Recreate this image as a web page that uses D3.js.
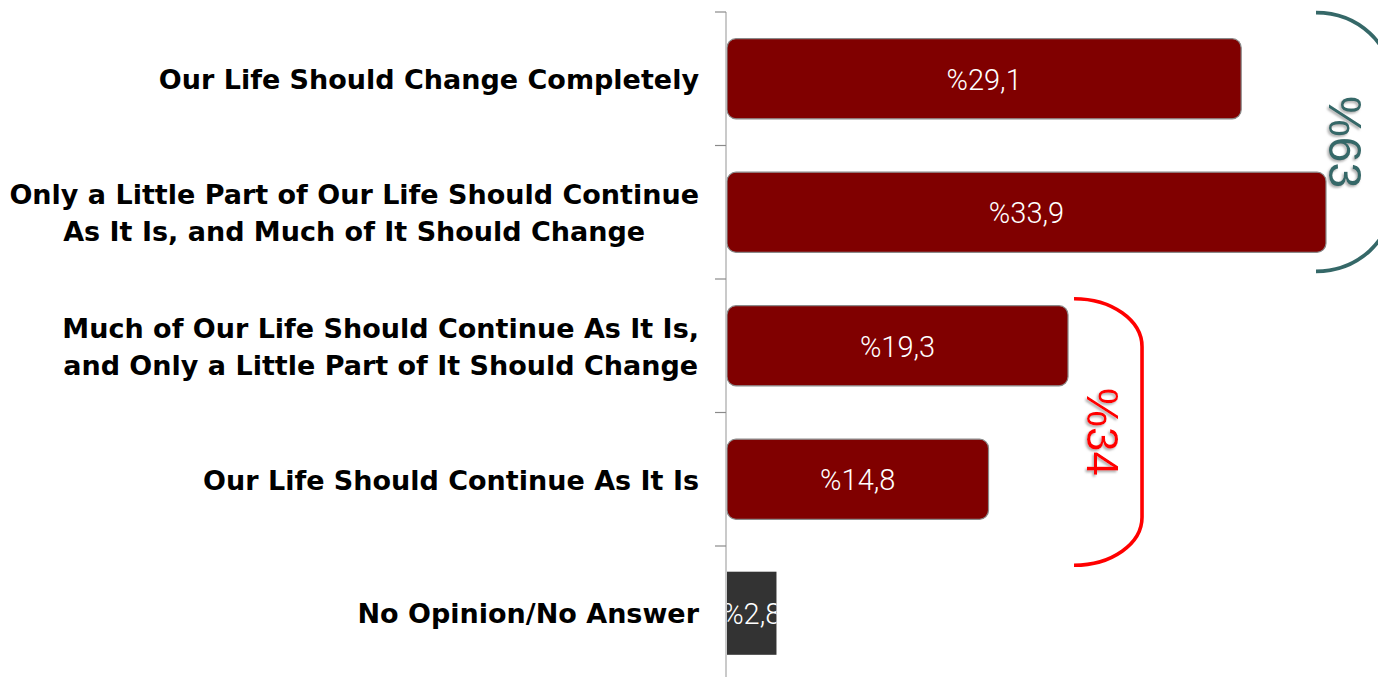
<!DOCTYPE html>
<html><head><meta charset="utf-8">
<script src="https://cdn.jsdelivr.net/npm/d3@7"></script>
<style>html,body{margin:0;padding:0;background:#fff;}svg{display:block;}</style>
</head><body>
<svg id="chart" width="1378" height="677"></svg>
<script>
const categories = [
  ["Our Life Should Change Completely"],
  ["Only a Little Part of Our Life Should Continue", "As It Is, and Much of It Should Change"],
  ["Much of Our Life Should Continue As It Is,", "and Only a Little Part of It Should Change"],
  ["Our Life Should Continue As It Is"],
  ["No Opinion/No Answer"]
];
const values = [29.1, 33.9, 19.3, 14.8, 2.8];
const valueLabels = ["%29,1", "%33,9", "%19,3", "%14,8", "%2,8"];
const groupLabels = ["%63", "%34"];

const svg = d3.select("#chart");
const keys = categories.map((c, i) => "c" + i);
const x = d3.scaleLinear().domain([0, 33.9]).range([727, 1326]);
const y = d3.scaleBand().domain(keys).range([12, 679.5]).paddingInner(0.4).paddingOuter(0.2);

const defs = svg.append("defs");
const f = defs.append("filter").attr("id", "sh").attr("x", "-20%").attr("y", "-20%").attr("width", "140%").attr("height", "140%");
f.append("feDropShadow").attr("dx", 1.8).attr("dy", 1.5).attr("stdDeviation", 1).attr("flood-color", "#999").attr("flood-opacity", 0.8);

// bars
values.forEach((v, i) => {
  const last = i === values.length - 1;
  const g = svg.append("g");
  if (last) {
    defs.append("clipPath").attr("id", "clipLast").append("rect")
      .attr("x", x(0)).attr("y", y(keys[i])).attr("width", x(v) - x(0)).attr("height", y.bandwidth() + 3);
    g.append("rect").attr("x", x(0)).attr("y", y(keys[i]) - 1).attr("width", x(v) - x(0)).attr("height", y.bandwidth() + 3)
      .attr("fill", "#333333");
    g.append("text").attr("clip-path", "url(#clipLast)")
      .attr("x", (x(0) + x(v)) / 2).attr("y", y(keys[i]) + y.bandwidth() / 2 + 1)
      .attr("text-anchor", "middle").attr("dominant-baseline", "central")
      .attr("font-family", "Roboto").attr("font-weight", 300).attr("font-size", 29).attr("fill", "#fff").text(valueLabels[i]);
  } else {
    g.append("rect").attr("x", x(0)).attr("y", y(keys[i])).attr("width", x(v) - x(0)).attr("height", y.bandwidth())
      .attr("rx", 9).attr("ry", 9).attr("fill", "#800000").attr("stroke", "#8a8a8a").attr("stroke-width", 1.2);
    g.append("text")
      .attr("x", (x(0) + x(v)) / 2).attr("y", y(keys[i]) + y.bandwidth() / 2 + 1)
      .attr("text-anchor", "middle").attr("dominant-baseline", "central")
      .attr("font-family", "Roboto").attr("font-weight", 300).attr("font-size", 29).attr("fill", "#fff").text(valueLabels[i]);
  }
});

// axis
const step = y.step();
const top0 = 12;
svg.append("line").attr("x1", 726).attr("x2", 726).attr("y1", top0).attr("y2", 677)
  .attr("stroke", "#bdbdbd").attr("stroke-width", 1.6);
for (let k = 0; k <= keys.length; k++) {
  const ty = top0 + k * step;
  svg.append("line").attr("x1", 715).attr("x2", 726).attr("y1", ty).attr("y2", ty)
    .attr("stroke", "#8a8a8a").attr("stroke-width", 1.2);
}

// category labels
const labelRight = 699;
categories.forEach((lines, i) => {
  const cy = y(keys[i]) + y.bandwidth() / 2 + 1;
  const lh = 37;
  const t = svg.append("text").attr("font-family", "DejaVu Sans").attr("font-weight", "bold")
    .attr("font-size", 27).attr("fill", "#000");
  const spans = lines.map((ln, j) => t.append("tspan").attr("y", cy + (j - (lines.length - 1) / 2) * lh).attr("dominant-baseline", "central").text(ln));
  const widths = spans.map(s => s.node().getComputedTextLength());
  const w = Math.max(...widths);
  spans.forEach((s, j) => {
    s.attr("x", labelRight - w / 2).attr("text-anchor", "middle");
  });
});

// brackets
const brackets = [
  {color: "#356868", x0: x(values[1]) - 10, xv: x(values[1]) + 66, y0: y(keys[0]) - 26, y1: y(keys[1]) + y.bandwidth() + 19, rx: 76, ry: 70, sw: 3.8, tx: 1345, fs: 46},
  {color: "#ff0000", x0: x(values[2]) + 6, xv: x(values[2]) + 74, y0: y(keys[2]) - 7, y1: y(keys[3]) + y.bandwidth() + 46, rx: 68, ry: 48, sw: 3.6, tx: 1103, fs: 44}
];
brackets.forEach((b, i) => {
  svg.append("path")
    .attr("d", `M${b.x0},${b.y0} A${b.rx},${b.ry} 0 0 1 ${b.xv},${b.y0 + b.ry} L${b.xv},${b.y1 - b.ry} A${b.rx},${b.ry} 0 0 1 ${b.x0},${b.y1}`)
    .attr("fill", "none").attr("stroke", b.color).attr("stroke-width", b.sw);
  const cy = (b.y0 + b.y1) / 2;
  svg.append("text").attr("transform", `translate(${b.tx},${cy}) rotate(90)`)
    .attr("text-anchor", "middle").attr("dominant-baseline", "central")
    .attr("font-family", "Liberation Sans").attr("font-size", b.fs).attr("fill", b.color)
    .attr("filter", "url(#sh)").text(groupLabels[i]);
});
</script>
</body></html>
